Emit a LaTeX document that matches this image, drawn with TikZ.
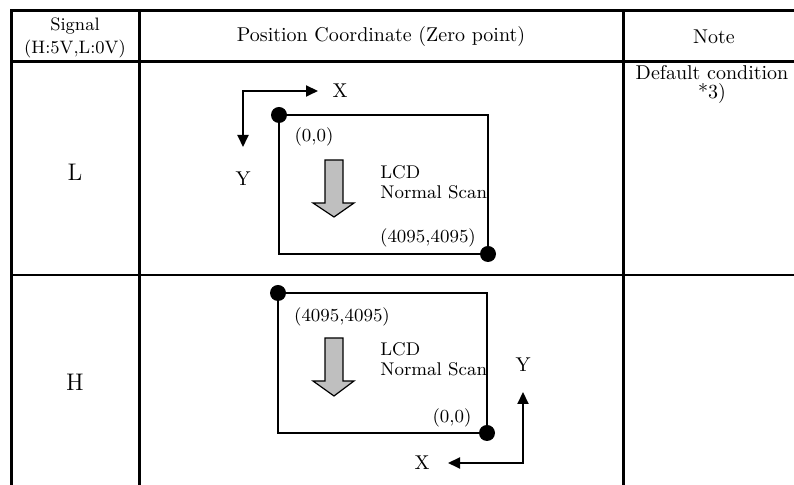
\documentclass[tikz,border=0pt]{standalone}
\usetikzlibrary{arrows.meta,positioning}
\tikzset{
  frame line/.style={line width=1.5pt},
  grid line/.style={line width=1.1pt},
  screen/.style={line width=0.7pt},
  corner/.style={circle,fill,inner sep=0pt,minimum size=8pt},
  axes/.style={line width=1pt,{Triangle[length=6pt,width=5.5pt]}-{Triangle[length=6pt,width=5.5pt]}},
  scan/.style={draw,line width=0.6pt,fill=black!25},
  lbl/.style={inner sep=1pt,font=\fontsize{9.2}{10}\selectfont},
}

\begin{document}
\begin{tikzpicture}[x=0.5pt, y=-0.5pt]
\useasboundingbox (0,0) rectangle (794,485);

% table frame
\draw[frame line] (11.5,485) -- (11.5,10.5) -- (794,10.5);
\draw[grid line] (11,61.5) -- (794,61.5);
\draw[grid line] (11,275) -- (794,275);
\draw[grid line] (139.5,10) -- (139.5,485);
\draw[grid line] (623.5,10) -- (623.5,485);

% header
\node[align=center, font=\fontsize{9}{11.5}\selectfont] (sig) at (75,38) {Signal\\(H:5V,L:0V)};
\node (pos) at (381,37) {Position Coordinate (Zero point)};
\node (note) at (714,37) {Note};

% row L
\node (lo) at (75,172) {\large L};
\node[align=center, font=\fontsize{10}{9.5}\selectfont] (dflt) at (712,84) {Default condition\\*3)};
\draw[screen] (279,115) rectangle (488,254);
\node[corner] (zl) at (279,115) {};
\node[corner] (ml) at (488,254) {};
\draw[scan] (325,160) -- (343,160) -- (343,203) -- (354,203) -- (334,217) -- (313,203) -- (325,203) -- cycle;
\node[lbl] (zlt) at (314,137) {(0,0)};
\node[lbl] (mlt) at (428,238) {(4095,4095)};
\node[lbl, align=left, anchor=west] (lcdl) at (378,182) {LCD\\Normal Scan};
\coordinate (cl) at (243,91);
\coordinate (xel) at (318,91);
\coordinate (yel) at (243,147);
\draw[axes] (xel) -- (cl) -- (yel);
\node (xl) at (340,91) {X};
\node (yl) at (243,179) {Y};

% row H
\node (hi) at (75,382) {\large H};
\draw[screen] (278,293) rectangle (487,433);
\node[corner] (mh) at (278,293) {};
\node[corner] (zh) at (487,433) {};
\draw[scan] (325,338) -- (343,338) -- (343,381) -- (354,381) -- (334,396) -- (313,381) -- (325,381) -- cycle;
\node[lbl] (mht) at (342,317) {(4095,4095)};
\node[lbl] (zht) at (452,418) {(0,0)};
\node[lbl, align=left, anchor=west] (lcdh) at (378,359) {LCD\\Normal Scan};
\coordinate (ch) at (523,463);
\coordinate (xeh) at (448,463);
\coordinate (yeh) at (523,392);
\draw[axes] (xeh) -- (ch) -- (yeh);
\node (xh) at (422,463) {X};
\node (yh) at (523,365) {Y};
\end{tikzpicture}
\end{document}
